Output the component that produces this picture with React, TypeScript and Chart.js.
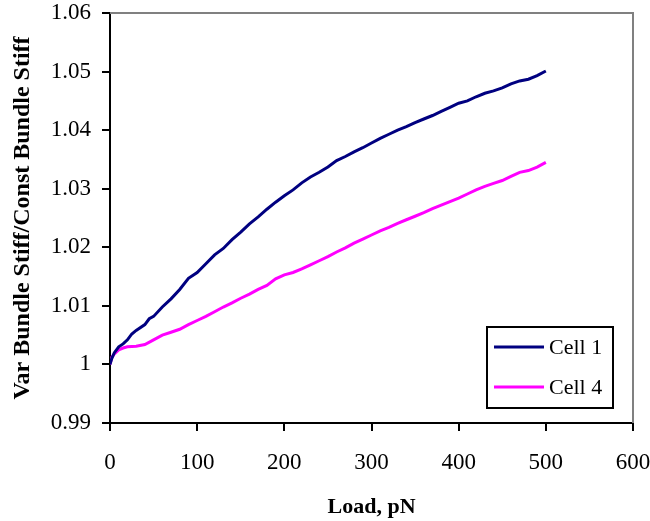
import React, { useEffect, useRef } from "react";
import { Chart, registerables } from "chart.js";

Chart.register(...registerables);

const loadCell1 = [0, 2, 5, 10, 15, 20, 25, 30, 40, 45, 50, 60, 70, 80, 90, 100, 110, 120, 130, 140, 150, 160, 170, 180, 190, 200, 210, 220, 230, 240, 250, 260, 270, 280, 290, 300, 310, 320, 330, 340, 350, 360, 370, 380, 390, 400, 410, 420, 430, 440, 450, 460, 470, 480, 490, 500];
const cell1 = [1.0, 1.001, 1.002, 1.003, 1.0035, 1.0042, 1.0052, 1.0058, 1.0068, 1.0078, 1.0082, 1.0098, 1.0112, 1.0128, 1.0147, 1.0157, 1.0172, 1.0187, 1.0198, 1.0213, 1.0226, 1.024, 1.0252, 1.0265, 1.0277, 1.0288, 1.0298, 1.031, 1.032, 1.0328, 1.0337, 1.0348, 1.0355, 1.0363, 1.037, 1.0378, 1.0386, 1.0393, 1.04, 1.0406, 1.0413, 1.0419, 1.0425, 1.0432, 1.0439, 1.0446, 1.045, 1.0457, 1.0463, 1.0467, 1.0472, 1.0479, 1.0484, 1.0487, 1.0493, 1.0501];

const loadCell4 = [0, 2, 5, 10, 15, 20, 30, 40, 50, 60, 70, 80, 90, 100, 110, 120, 130, 140, 150, 160, 170, 180, 190, 200, 210, 220, 230, 240, 250, 260, 270, 280, 290, 300, 310, 320, 330, 340, 350, 360, 370, 380, 390, 400, 410, 420, 430, 440, 450, 460, 470, 480, 490, 500];
const cell4 = [1.0, 1.0012, 1.0018, 1.0025, 1.0028, 1.003, 1.0031, 1.0034, 1.0042, 1.005, 1.0055, 1.006, 1.0068, 1.0075, 1.0082, 1.009, 1.0098, 1.0105, 1.0113, 1.012, 1.0128, 1.0135, 1.0146, 1.0153, 1.0157, 1.0163, 1.017, 1.0177, 1.0184, 1.0192, 1.0199, 1.0207, 1.0214, 1.0221, 1.0228, 1.0234, 1.0241, 1.0247, 1.0253, 1.0259, 1.0266, 1.0272, 1.0278, 1.0284, 1.0291, 1.0298, 1.0304, 1.0309, 1.0314, 1.0321, 1.0328, 1.0331, 1.0337, 1.0345];

const seriesNames = ["Cell 1", "Cell 4"];
const seriesColors = ["#000080", "#FF00FF"];
const xTitle = "Load, pN";
const yTitle = "Var Bundle Stiff/Const Bundle Stiff";

const SERIF = "'Liberation Serif', 'Times New Roman', serif";

const framePlugin = {
  id: "frameAndLegend",
  afterDraw(chart: any) {
    const { ctx, chartArea } = chart;
    const { left, right, top, bottom } = chartArea;
    ctx.save();
    ctx.strokeStyle = "#808080";
    ctx.lineWidth = 2;
    ctx.beginPath();
    ctx.moveTo(left, top);
    ctx.lineTo(right, top);
    ctx.lineTo(right, bottom);
    ctx.stroke();

    const bw = 126;
    const bh = 81;
    const bx = right - 20 - bw;
    const by = bottom - 15 - bh;
    ctx.fillStyle = "#ffffff";
    ctx.fillRect(bx, by, bw, bh);
    ctx.strokeStyle = "#000000";
    ctx.lineWidth = 2;
    ctx.strokeRect(bx, by, bw, bh);
    ctx.font = "22px " + SERIF;
    ctx.textBaseline = "middle";
    ctx.textAlign = "left";
    chart.data.datasets.forEach((ds: any, i: number) => {
      const y = by + 20 + i * 40;
      ctx.strokeStyle = ds.borderColor;
      ctx.lineWidth = 3;
      ctx.beginPath();
      ctx.moveTo(bx + 7, y);
      ctx.lineTo(bx + 57, y);
      ctx.stroke();
      ctx.fillStyle = "#000000";
      ctx.fillText(ds.label, bx + 62, y + 1);
    });
    ctx.restore();
  },
};

export default function App() {
  const ref = useRef<HTMLCanvasElement>(null);
  useEffect(() => {
    if (!ref.current) return;
    const chart = new Chart(ref.current, {
      type: "line",
      data: {
        datasets: [
          {
            label: seriesNames[0],
            data: loadCell1.map((x, i) => ({ x, y: cell1[i] })),
            borderColor: seriesColors[0],
            backgroundColor: seriesColors[0],
            borderWidth: 3,
            pointRadius: 0,
            tension: 0,
          },
          {
            label: seriesNames[1],
            data: loadCell4.map((x, i) => ({ x, y: cell4[i] })),
            borderColor: seriesColors[1],
            backgroundColor: seriesColors[1],
            borderWidth: 3,
            pointRadius: 0,
            tension: 0,
          },
        ],
      },
      options: {
        responsive: false,
        animation: false,
        devicePixelRatio: 1,
        layout: { padding: { left: 0, right: 17, top: 13, bottom: 0 } },
        plugins: {
          legend: { display: false },
          tooltip: { enabled: false },
        },
        scales: {
          x: {
            type: "linear",
            min: 0,
            max: 600,
            ticks: {
              stepSize: 100,
              color: "#000",
              font: { family: SERIF, size: 23 },
              padding: 18,
              maxRotation: 0,
            },
            grid: {
              display: true,
              drawOnChartArea: false,
              drawTicks: true,
              tickLength: 8,
              color: "#000",
              lineWidth: 2,
            },
            border: { display: true, color: "#000", width: 2 },
            title: {
              display: true,
              text: xTitle,
              color: "#000",
              font: { family: SERIF, size: 22, weight: "bold" },
              padding: { top: 0, bottom: 0 },
            },
            afterFit(scale: any) {
              scale.height = 98;
              scale.paddingLeft = 0;
              scale.paddingRight = 0;
            },
          },
          y: {
            type: "linear",
            min: 0.99,
            max: 1.06,
            ticks: {
              stepSize: 0.01,
              color: "#000",
              font: { family: SERIF, size: 23 },
              padding: 11,
              callback: (v: any) => String(Number(Number(v).toFixed(2))),
            },
            grid: {
              display: true,
              drawOnChartArea: false,
              drawTicks: true,
              tickLength: 8,
              color: "#000",
              lineWidth: 2,
            },
            border: { display: true, color: "#000", width: 2 },
            title: {
              display: true,
              text: yTitle,
              color: "#000",
              font: { family: SERIF, size: 24, weight: "bold" },
              padding: { top: 8, bottom: 0 },
            },
            afterFit(scale: any) {
              scale.width = 110;
              scale.paddingTop = 0;
              scale.paddingBottom = 0;
            },
          },
        },
      },
      plugins: [framePlugin],
    });
    return () => chart.destroy();
  }, []);
  return (
    <div style={{ position: "absolute", left: 0, top: 0, width: 650, height: 521, background: "#fff" }}>
      <canvas ref={ref} width={650} height={521} />
    </div>
  );
}
